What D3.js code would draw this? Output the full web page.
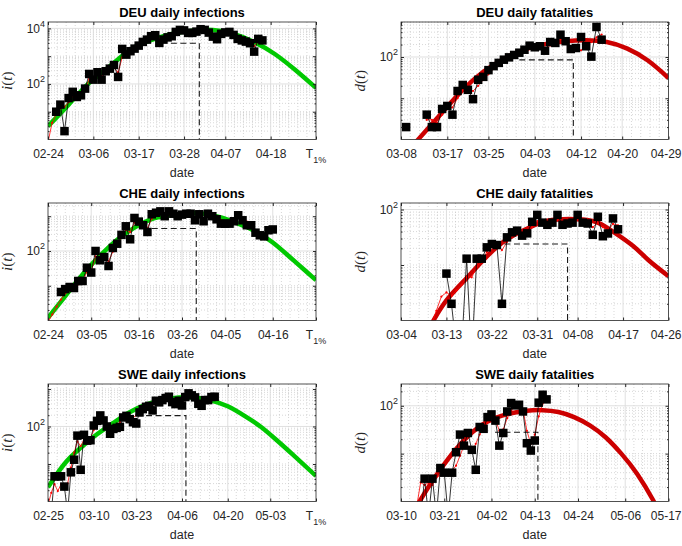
<!DOCTYPE html>
<html>
  <head>
    <meta charset="utf-8">
    <title>Daily infections and fatalities</title>
    <style>
      body { margin: 0; background: #fff; }
    </style>
  </head>
  <body>
    <div id="fig"></div>
    <script src="https://cdn.jsdelivr.net/npm/d3@7/dist/d3.min.js"></script>
    <script>
      // values; index 0 of every series = first tick date of its panel
      const deuInfTicks = ["02-24", "03-06", "03-17", "03-28", "04-07", "04-18", "04-29"];
      const deuFatTicks = ["03-08", "03-17", "03-25", "04-03", "04-12", "04-20", "04-29"];
      const cheInfTicks = ["02-24", "03-05", "03-16", "03-26", "04-05", "04-16", "04-26"];
      const cheFatTicks = ["03-04", "03-13", "03-22", "03-31", "04-08", "04-17", "04-26"];
      const sweInfTicks = ["02-25", "03-10", "03-23", "04-06", "04-20", "05-03", "05-17"];
      const sweFatTicks = ["03-10", "03-21", "04-02", "04-13", "04-24", "05-06", "05-17"];

      const yMaxes = [17000, 705, 2400, 131, 1357, 285];

      // reported daily counts (black squares)
      const deuInfCases = [null, null, 10, 18, 2, 31, 52, 34, 39, 68, 229, 143, 264, 143, 287, 356, 480, 179,
        1825, 1138, 1508, 1872, 2400, 3263, 3948, 5233, 5688, 3002, 3948, 4740, 5233, 7478, 8830, 8470, 6886,
        6886, 7670, 9355, 8830, 7063, 5063, 4083, 6339, 7177, 7478, 5834, 4188, 3700, 3345, 2931, 1459, 4188, 3700];
      const deuFatCases = [null, 2, null, null, null, 4, 2, 2, 5.5, 6.5, 4, 15, 21, 16, 9.5, 28, 33, 48, 60, 72,
        86, 98, 112, 127, 150, 188, 172, 182, 142, 231, 219, 347, 241, 156, 165, 305, 182, 102, 534, 263];
      const cheInfCases = [null, null, null, 6.6, 8, 9.2, 8.6, 13.7, 13.7, 33, 24, 100, 54, 67, 37, 122, 162, 290,
        513, 217, 890, 700, 550, 352, 1137, 1260, 1380, 1000, 1380, 1180, 1000, 1110, 1180, 1180, 764, 1137, 716,
        1180, 1000, 815, 611, 611, 611, 716, 1065, 764, 550, 550, 336, 283, 263, 395, 416];
      const cheFatCases = [null, null, null, null, null, null, null, null, null, 7, 2, 0.3, 0.3, 13, 0.2, 13, 13,
        20.8, 23.9, 22.9, 2, 31.5, 38.8, 41.6, 33.8, 37.2, 60, 80, 58, 53, 58, 80, 53, 56, 58, 80, 58, 56, 35, 74,
        33, 37, 69, 44];
      const sweInfCases = [null, 0.5, 4.7, 4.7, 4.7, 2.5, 0.5, 6, 13, 57, 7, 60, 42, 43, 106, 141, 197, 145, 100,
        64, 86, 92, 98, 174, 192, 157, 130, 120, 237, 290, 335, 355, 268, 485, 440, 505, 573, 621, 447, 395, 485,
        363, 609, 764, 676, 597, 403, 356, 506, 506, 609, 621];
      const sweFatCases = [null, null, null, null, null, 0.5, 3, 0.5, 3, 0.5, 5, 4, 0.5, 4, 10.7, 25, 14.7, 27, 12,
        4.6, 36, 33, 58, 66, 49, 14.7, 27, 76, 114, 102, 105, 76, 16.5, 11.6, 18.8, 116, 170, 136];

      // thin red series with dot markers
      const deuInfSmooth = [0.8, 4, 8, 13, 15, 22, 35, 38, 42, 60, 150, 160, 210, 190, 240, 300, 380, 260, 900,
        1200, 1500, 1900, 2400, 3100, 3800, 4700, 5100, 4100, 4200, 4700, 5400, 6800, 8000, 8100, 7400, 7200,
        7600, 8600, 8600, 7400, 5800, 4900, 5800, 6600, 7000, 6000, 4700, 3900, 3500, 3100, 2300, 3300, 3600];
      const deuFatSmooth = [null, null, null, null, null, 3, 3, 2.5, 4, 5.5, 6, 10, 16, 18, 15, 20, 28, 38, 52, 65,
        80, 94, 108, 123, 140, 165, 175, 178, 165, 190, 215, 270, 265, 150, 140, 145, 190, 230, 300, 350];
      const cheInfSmooth = [0.9, 1.5, 2.5, 4, 6, 7.5, 8.5, 11, 13, 25, 26, 70, 65, 68, 50, 95, 140, 240, 400, 350,
        650, 650, 560, 450, 850, 1100, 1250, 1150, 1300, 1250, 1150, 1030, 1100, 1180, 950, 1050, 850, 1000, 1050,
        930, 780, 650, 600, 680, 900, 880, 700, 560, 400, 320, 270, 340, 400];
      const cheFatSmooth = [null, null, null, null, null, null, 0.8, 1.5, 2.7, 3.2, 2.8, 3.5, 4.4, 6.2, 6, 9.3, 12,
        17, 21, 24, 18.6, 26, 33, 38, 37, 38, 48, 62, 62, 57, 57, 65, 60, 57, 57, 66, 64, 58, 48, 58, 48, 42, 55, 52];
      const sweInfSmooth = [0.8, 1.7, 2.9, 1.9, 2.9, 2.2, 3, 8, 20, 40, 30, 45, 48, 50, 80, 110, 150, 150, 110, 80,
        85, 95, 130, 165, 175, 155, 170, 200, 240, 290, 320, 330, 380, 440, 470, 520, 560, 540, 470, 430, 450, 440,
        530, 640, 660, 600, 480, 420, 450, 500, 560, 600];
      const sweFatSmooth = [null, null, null, null, 0.8, 2.5, 2.2, 2.5, 2.2, 3.2, 3.5, 3.8, 4.2, 4.5, 5.6, 9, 14.7,
        14, 10.7, 16, 25, 33, 45, 55, 52, 30, 32, 55, 80, 95, 100, 85, 30, 16, 25, 60, 110, 135];

      // fitted curves, sampled at these day offsets
      const deuInfFitDays = [0, 5, 10, 15, 20, 25, 30, 35, 40, 45, 50, 55, 60, 65];
      const deuInfFit = [3.0, 18, 109, 435, 1720, 3750, 6340, 8300, 8700, 6300, 3250, 1200, 316, 72];
      const deuFatFitDays = [3, 8, 12, 16, 20, 24, 28, 32, 36, 40, 44, 48, 52];
      const deuFatFit = [0.9, 4.5, 16, 44, 90, 150, 205, 242, 256, 230, 160, 82, 31];
      const cheInfFitDays = [0, 4, 8, 12, 16, 20, 24, 28, 32, 36, 40, 44, 48, 52, 56, 60, 62];
      const cheInfFit = [1.2, 5, 21, 72, 210, 470, 830, 1050, 1220, 1180, 930, 614, 370, 175, 66, 24, 14.5];
      const cheFatFitDays = [6, 9, 13, 16, 19, 22, 26, 29, 32, 36, 39, 42, 46, 49, 53];
      const cheFatFit = [0.85, 2.3, 5.8, 11.5, 21, 33, 50, 63, 67, 66, 58, 40, 22, 12.3, 6.3];
      const sweInfFitDays = [0, 5, 10, 15, 20, 25, 30, 35, 40, 45, 50, 55, 60, 65, 70, 75, 82];
      const sweInfFit = [2.4, 10, 27, 62, 125, 240, 380, 510, 590, 590, 490, 345, 195, 100, 43, 17.5, 4.8];
      const sweFatFitDays = [4, 8, 12, 16, 20, 24, 28, 32, 36, 40, 44, 48, 52, 56, 60, 64, 66];
      const sweFatFit = [0.8, 2.7, 7.8, 19, 37, 56, 70, 79, 81, 74, 58, 39, 22, 10, 3.8, 1.1, 0.5];

      // dashed marker: [from day, to day, level]
      const deuInfDash = [29.8, 36.7, 2930];
      const deuFatDash = [23, 33.5, 85];
      const cheInfDash = [24, 34.3, 445];
      const cheFatDash = [20.5, 33, 23.9];
      const sweInfDash = [27.1, 42.2, 195];
      const sweFatDash = [23.9, 34.8, 28];

      const green = "#00c800", darkRed = "#cc0000";
      const axisColor = "#262626";
      const sans = "'Liberation Sans', Arial, Helvetica, sans-serif";

      const panels = [
        { title: "DEU daily infections", sym: "i", ticks: deuInfTicks, data: deuInfCases, smooth: deuInfSmooth, fitDays: deuInfFitDays, fit: deuInfFit, dash: deuInfDash, color: green, tEnd: true },
        { title: "DEU daily fatalities", sym: "d", ticks: deuFatTicks, data: deuFatCases, smooth: deuFatSmooth, fitDays: deuFatFitDays, fit: deuFatFit, dash: deuFatDash, color: darkRed, tEnd: false },
        { title: "CHE daily infections", sym: "i", ticks: cheInfTicks, data: cheInfCases, smooth: cheInfSmooth, fitDays: cheInfFitDays, fit: cheInfFit, dash: cheInfDash, color: green, tEnd: true },
        { title: "CHE daily fatalities", sym: "d", ticks: cheFatTicks, data: cheFatCases, smooth: cheFatSmooth, fitDays: cheFatFitDays, fit: cheFatFit, dash: cheFatDash, color: darkRed, tEnd: false },
        { title: "SWE daily infections", sym: "i", ticks: sweInfTicks, data: sweInfCases, smooth: sweInfSmooth, fitDays: sweInfFitDays, fit: sweInfFit, dash: sweInfDash, color: green, tEnd: true },
        { title: "SWE daily fatalities", sym: "d", ticks: sweFatTicks, data: sweFatCases, smooth: sweFatSmooth, fitDays: sweFatFitDays, fit: sweFatFit, dash: sweFatDash, color: darkRed, tEnd: false }
      ];

      const width = 682, height = 546;
      const cols = [[48, 316], [401, 668.5]];
      const rows = [22, 203, 384];
      const plotH = 117.5;

      const svg = d3.select("#fig").append("svg")
        .attr("width", width)
        .attr("height", height)
        .attr("font-family", sans);

      const parse = s => d3.utcParse("%Y-%m-%d")("2020-" + s);
      const fmt = d3.utcFormat("%m-%d");

      const drawPanel = (p, i) => {
        const [x0, x1] = cols[i % 2];
        const y0 = rows[Math.floor(i / 2)], y1 = y0 + plotH;
        const yMax = yMaxes[i];
        const tickDates = p.ticks.map(parse);
        const t0 = tickDates[0];
        const at = d => new Date(+t0 + d * 864e5);

        const x = d3.scaleUtc().domain([t0, tickDates[tickDates.length - 1]]).range([x0, x1]);
        const y = d3.scaleLog().domain([1, yMax]).range([y1, y0]);

        const g = svg.append("g");
        const clipId = "clip" + i;
        g.append("clipPath").attr("id", clipId)
          .append("rect").attr("x", x0).attr("y", y0).attr("width", x1 - x0).attr("height", plotH);

        // grid
        const majorY = [100, 10000].filter(v => v < yMax);
        const decades = [10, 1000].filter(v => v < yMax);
        const minorY = [];
        for (let e = 0; e < 5; e++) {
          for (let m = 1; m < 10; m++) {
            const v = m * Math.pow(10, e);
            if (v > 1 && v < yMax && !majorY.includes(v)) minorY.push(v);
          }
        }
        const minorX = [];
        d3.pairs(tickDates).forEach(([a, b]) => {
          for (let k = 1; k < 5; k++) minorX.push(new Date(+a + (b - a) * k / 5));
        });

        const grid = g.append("g").attr("fill", "none");
        grid.selectAll(".mx").data(minorX).join("line")
          .attr("x1", d => x(d)).attr("x2", d => x(d)).attr("y1", y0).attr("y2", y1)
          .attr("stroke", "#c6c6c6").attr("stroke-width", 0.7).attr("stroke-dasharray", "1,2");
        grid.selectAll(".my").data(minorY).join("line")
          .attr("x1", x0).attr("x2", x1).attr("y1", d => y(d)).attr("y2", d => y(d))
          .attr("stroke", "#c6c6c6").attr("stroke-width", 0.7).attr("stroke-dasharray", "1,2");
        grid.selectAll(".gx").data(tickDates.slice(1, -1)).join("line")
          .attr("x1", d => x(d)).attr("x2", d => x(d)).attr("y1", y0).attr("y2", y1)
          .attr("stroke", "#dcdcdc").attr("stroke-width", 0.9);
        grid.selectAll(".gy").data(majorY).join("line")
          .attr("x1", x0).attr("x2", x1).attr("y1", d => y(d)).attr("y2", d => y(d))
          .attr("stroke", "#dcdcdc").attr("stroke-width", 0.9);

        const plot = g.append("g").attr("clip-path", `url(#${clipId})`);

        // fitted curve
        const fitPts = p.fitDays.map((d, k) => [x(at(d)), y(p.fit[k])]);
        plot.append("path")
          .attr("d", d3.line().curve(d3.curveNatural)(fitPts))
          .attr("fill", "none").attr("stroke", p.color).attr("stroke-width", 4.5);

        // thin red series
        const sm = p.smooth.map((v, k) => ({ t: at(k), v })).filter(d => d.v != null);
        plot.append("path")
          .attr("d", d3.line().x(d => x(d.t)).y(d => y(d.v))(sm))
          .attr("fill", "none").attr("stroke", "#ff0000").attr("stroke-width", 0.8);
        plot.selectAll(".rdot").data(sm).join("circle")
          .attr("cx", d => x(d.t)).attr("cy", d => y(d.v)).attr("r", 1.1).attr("fill", "#ff0000");

        // dashed marker
        const [dFrom, dTo, dLev] = p.dash;
        plot.append("path")
          .attr("d", d3.line()([[x(at(dFrom)), y(dLev)], [x(at(dTo)), y(dLev)], [x(at(dTo)), y1]]))
          .attr("fill", "none").attr("stroke", "#1a1a1a").attr("stroke-width", 1.1)
          .attr("stroke-dasharray", "6,3.5");

        // reported data
        const obs = p.data.map((v, k) => ({ t: at(k), v }));
        plot.append("path")
          .attr("d", d3.line().defined(d => d.v != null).x(d => x(d.t)).y(d => y(d.v))(obs))
          .attr("fill", "none").attr("stroke", "#000").attr("stroke-width", 0.8);
        g.append("g").selectAll("rect").data(obs.filter(d => d.v != null && d.v >= 1 && d.v <= yMax)).join("rect")
          .attr("x", d => x(d.t) - 4.25).attr("y", d => y(d.v) - 4.25)
          .attr("width", 8.5).attr("height", 8.5).attr("fill", "#000");

        // axes
        const style = sel => {
          sel.select(".domain").remove();
          sel.selectAll("line").attr("stroke", axisColor);
          sel.attr("font-family", sans).attr("font-size", 12);
          sel.selectAll("text").attr("fill", axisColor);
        };
        const last = tickDates.length - 1;
        const bottomAxis = g.append("g").attr("transform", `translate(0,${y1})`)
          .call(d3.axisBottom(x).tickValues(tickDates).tickSizeInner(-3).tickSizeOuter(0).tickPadding(10)
            .tickFormat((d, k) => (p.tEnd && k === last) ? "" : fmt(d)))
          .call(style);
        // keep the last date label of the right column inside the page
        if (!p.tEnd) {
          const lastText = bottomAxis.selectAll(".tick text").filter((d, k) => k === last);
          const w = lastText.node().getComputedTextLength();
          if (x1 + w / 2 > width - 1) lastText.attr("text-anchor", "end").attr("x", width - 1 - x1);
        }
        g.append("g").attr("transform", `translate(0,${y0})`)
          .call(d3.axisTop(x).tickValues(tickDates).tickSizeInner(-3).tickSizeOuter(0).tickFormat(""))
          .call(style);
        const yTicks = majorY.concat(decades);
        const minorOnly = minorY.filter(v => !decades.includes(v));
        [[d3.axisLeft, x0], [d3.axisRight, x1]].forEach(([axis, xp]) => {
          g.append("g").attr("transform", `translate(${xp},0)`)
            .call(axis(y).tickValues(yTicks).tickSizeInner(-3).tickSizeOuter(0).tickFormat(""))
            .call(style);
          g.append("g").attr("transform", `translate(${xp},0)`)
            .call(axis(y).tickValues(minorOnly).tickSizeInner(-1.5).tickSizeOuter(0).tickFormat(""))
            .call(style);
        });

        g.append("rect")
          .attr("x", x0).attr("y", y0).attr("width", x1 - x0).attr("height", plotH)
          .attr("fill", "none").attr("stroke", axisColor).attr("stroke-width", 0.8);

        // T_1% label at the end of infection axes
        if (p.tEnd) {
          const tl = g.append("text")
            .attr("x", x1).attr("y", y1 + 18.5).attr("text-anchor", "middle")
            .attr("font-size", 12).attr("fill", axisColor);
          tl.append("tspan").text("T");
          tl.append("tspan").attr("dy", 4.5).attr("font-size", 9).text("1%");
        }

        // y tick labels 10^k
        const yl = g.selectAll(".ylab").data(majorY).join("text")
          .attr("x", x0 - 3).attr("y", d => y(d) + 4.3)
          .attr("text-anchor", "end").attr("font-size", 12).attr("fill", axisColor);
        yl.append("tspan").text("10");
        yl.append("tspan").attr("dy", -6).attr("font-size", 9).text(d => Math.round(Math.log10(d)));

        // titles and labels
        g.append("text")
          .attr("x", (x0 + x1) / 2).attr("y", y0 - 5.5).attr("text-anchor", "middle")
          .attr("font-size", 13).attr("font-weight", "bold").attr("fill", "#000")
          .text(p.title);
        g.append("text")
          .attr("x", (x0 + x1) / 2).attr("y", y1 + 37.5).attr("text-anchor", "middle")
          .attr("font-size", 12.5).attr("fill", axisColor)
          .text("date");
        const lab = g.append("text")
          .attr("transform", `translate(${x0 - 36.5},${(y0 + y1) / 2}) rotate(-90)`)
          .attr("text-anchor", "middle").attr("font-family", "'Liberation Serif', 'Times New Roman', serif")
          .attr("font-size", 15).attr("fill", axisColor);
        lab.append("tspan").attr("font-style", "italic").text(p.sym);
        lab.append("tspan").text("(");
        lab.append("tspan").attr("font-style", "italic").text("t");
        lab.append("tspan").text(")");
      };

      panels.forEach(drawPanel);
    </script>
  </body>
</html>
